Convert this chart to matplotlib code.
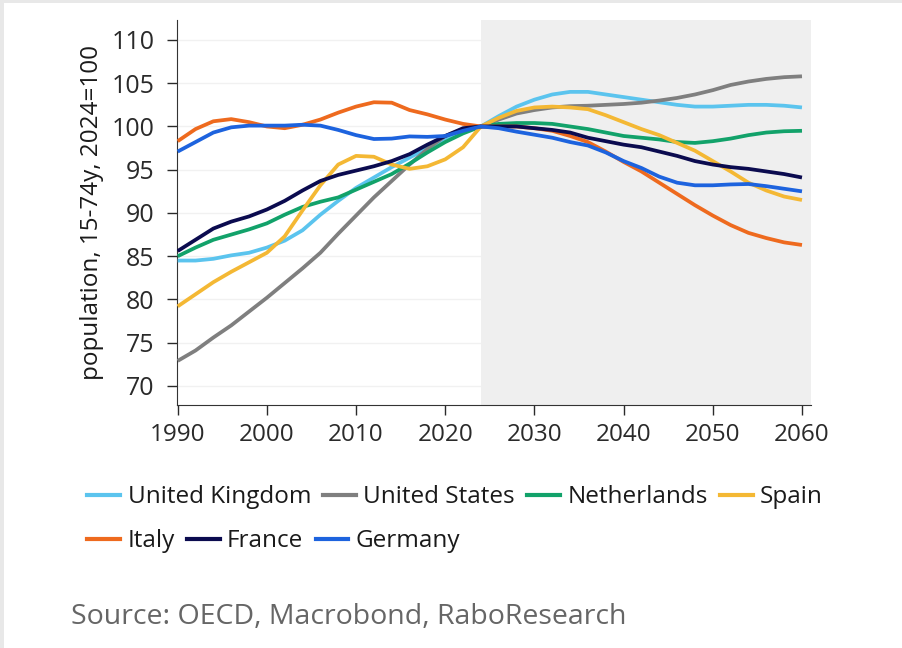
import numpy as np
import matplotlib
matplotlib.use("Agg")
from matplotlib import pyplot as plt
from matplotlib.lines import Line2D
from matplotlib.patches import Rectangle

plt.rcParams['font.family'] = ['Open Sans', 'DejaVu Sans']

# ---- data (2-year steps, 2024=100) ----
years = list(range(1990, 2061, 2))

united_kingdom = [84.5, 84.5, 84.7, 85.1, 85.4, 86.0, 86.8, 88.0, 89.8, 91.4,
                  92.9, 94.1, 95.3, 96.4, 97.5, 98.5, 99.4, 100.0, 101.2, 102.3,
                  103.1, 103.7, 104.0, 104.0, 103.7, 103.4, 103.1, 102.8, 102.5, 102.3,
                  102.3, 102.4, 102.5, 102.5, 102.4, 102.2]
united_states = [72.9, 74.1, 75.6, 77.0, 78.6, 80.2, 81.9, 83.6, 85.4, 87.6,
                 89.7, 91.8, 93.7, 95.6, 97.4, 98.9, 99.7, 100.0, 100.8, 101.5,
                 101.9, 102.2, 102.35, 102.4, 102.5, 102.6, 102.75, 103.0, 103.3, 103.7,
                 104.2, 104.8, 105.2, 105.5, 105.7, 105.8]
netherlands = [85.0, 86.0, 86.9, 87.5, 88.1, 88.8, 89.8, 90.7, 91.3, 91.8,
               92.7, 93.6, 94.5, 95.7, 97.0, 98.2, 99.2, 100.0, 100.3, 100.4,
               100.4, 100.3, 100.0, 99.7, 99.3, 98.9, 98.7, 98.5, 98.2, 98.1,
               98.3, 98.6, 99.0, 99.3, 99.45, 99.5]
spain = [79.2, 80.6, 82.0, 83.2, 84.3, 85.4, 87.3, 90.3, 93.2, 95.6,
         96.6, 96.5, 95.6, 95.1, 95.4, 96.2, 97.6, 100.0, 101.0, 101.8,
         102.2, 102.3, 102.2, 102.0, 101.3, 100.5, 99.7, 99.0, 98.1, 97.2,
         96.0, 94.8, 93.5, 92.6, 91.9, 91.5]
italy = [98.3, 99.7, 100.6, 100.85, 100.5, 100.0, 99.8, 100.2, 100.8, 101.6,
         102.3, 102.8, 102.75, 101.9, 101.4, 100.8, 100.3, 100.0, 100.0, 100.0,
         99.8, 99.5, 98.9, 98.2, 97.1, 95.9, 94.8, 93.5, 92.2, 90.9,
         89.7, 88.6, 87.7, 87.1, 86.6, 86.3]
france = [85.6, 86.9, 88.2, 89.0, 89.6, 90.4, 91.4, 92.6, 93.7, 94.4,
          94.9, 95.4, 96.0, 96.8, 97.9, 98.9, 99.8, 100.0, 100.0, 100.0,
          99.8, 99.6, 99.3, 98.7, 98.3, 97.9, 97.6, 97.1, 96.6, 96.0,
          95.6, 95.3, 95.1, 94.8, 94.5, 94.1]
germany = [97.1, 98.2, 99.3, 99.9, 100.1, 100.1, 100.1, 100.2, 100.1, 99.6,
           99.0, 98.55, 98.6, 98.85, 98.8, 98.9, 99.5, 100.0, 99.8, 99.4,
           99.05, 98.7, 98.2, 97.8, 97.0, 96.0, 95.2, 94.2, 93.5, 93.2,
           93.2, 93.3, 93.35, 93.1, 92.8, 92.5]

names = ['United Kingdom', 'United States', 'Netherlands', 'Spain',
         'Italy', 'France', 'Germany']
series = [united_kingdom, united_states, netherlands, spain, italy, france, germany]
colors = ['#5bc4ee', '#7f7f7f', '#12a26a', '#f4b834', '#ee6a1e', '#0b0b4f', '#1d63de']

x_ticks = [1990, 2000, 2010, 2020, 2030, 2040, 2050, 2060]
y_ticks = [70, 75, 80, 85, 90, 95, 100, 105, 110]
forecast_start = 2024

fig = plt.figure(figsize=(9.02, 6.48), dpi=100)
ax = fig.add_axes([0.196, 0.375, 0.703, 0.594])

ax.set_xlim(1989.9, 2061)
ax.set_ylim(67.8, 112.3)
ax.axvspan(forecast_start, 2061, color='#efefef', lw=0, zorder=1)

ax.set_axisbelow(True)
ax.yaxis.grid(True, color='#f1f1f1', lw=1)

for name, vals, c in zip(names, series, colors):
    ax.plot(years, vals, color=c, lw=2.7, label=name, zorder=3,
            solid_capstyle='butt', solid_joinstyle='round')

ax.set_xticks(x_ticks)
ax.set_yticks(y_ticks)
ax.tick_params(axis='both', labelsize=17.5, colors='#2a2a2a', length=7, width=1)
ax.tick_params(axis='x', pad=6)
ax.tick_params(axis='y', pad=9, labelsize=18)
for s in ['top', 'right']:
    ax.spines[s].set_visible(False)
for s in ['left', 'bottom']:
    ax.spines[s].set_color('#333333')

ax.set_ylabel('population, 15-74y, 2024=100', fontsize=17.5, color='#1a1a1a')
ax.yaxis.set_label_coords(-0.115, 0.5)

# legend in two flowing rows
handles = [Line2D([0], [0], color=c, lw=3) for c in colors]
leg_kw = dict(frameon=False, fontsize=17.5, handlelength=1.35, handletextpad=0.3,
              columnspacing=0.5, borderaxespad=0, borderpad=0, loc='center left')
leg1 = fig.legend(handles[:4], names[:4], ncol=4, bbox_to_anchor=(0.097, 0.233), **leg_kw)
leg2 = fig.legend(handles[4:], names[4:], ncol=3, bbox_to_anchor=(0.097, 0.165), **leg_kw)
for leg in (leg1, leg2):
    for t in leg.get_texts():
        t.set_color('#1a1a1a')

fig.text(0.079, 0.048, 'Source: OECD, Macrobond, RaboResearch', fontsize=20.5,
         color='#666666', va='center', ha='left')

# light grey page border (top and left)
fig.patches.append(Rectangle((0, 1 - 3 / 648), 1, 3 / 648, transform=fig.transFigure,
                             color='#e8e8e8', lw=0))
fig.patches.append(Rectangle((0, 0), 4 / 902, 1, transform=fig.transFigure,
                             color='#e8e8e8', lw=0))

fig.savefig('out.png', dpi=100)
